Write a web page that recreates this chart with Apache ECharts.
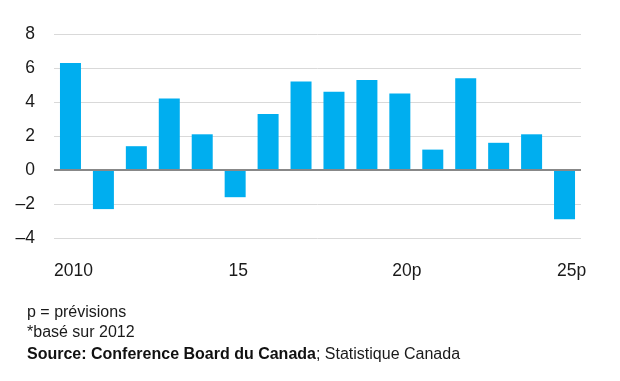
<!DOCTYPE html>
<html><head><meta charset="utf-8">
<script src="https://cdn.jsdelivr.net/npm/echarts@6/dist/echarts.min.js"></script>
<style>html,body{margin:0;padding:0;background:#fff}#c{width:620px;height:381px}</style>
</head><body><div id="c"></div>
<script>
var years = ['2010','2011','2012','2013','2014','2015','2016','2017','2018','2019','2020','2021','2022','2023','2024','2025'];
var tickLabels = ['2010','','','','','15','','','','','20p','','','','','25p'];
var values = [6.3, -2.3, 1.4, 4.2, 2.1, -1.6, 3.3, 5.2, 4.6, 5.3, 4.5, 1.2, 5.4, 1.6, 2.1, -2.9];
var notes = ['p = prévisions', '*basé sur 2012'];
var sourceBold = 'Source: Conference Board du Canada';
var sourceRest = '; Statistique Canada';

var chart = echarts.init(document.getElementById('c'), null, {renderer:'canvas'});
var font = 'Liberation Sans, Arial, sans-serif';
chart.setOption({
  animation:false,
  grid:{left:54, right:39, top:34, bottom:143, containLabel:false},
  xAxis:{type:'category', data:years,
    axisLine:{show:false}, axisTick:{show:false},
    axisLabel:{interval:0, margin:24, color:'#1a1a1a', fontFamily:font, fontSize:17,
      formatter:function(v,i){var t=tickLabels[i]; if(!t) return ''; return /p$/.test(t)?'{q|'+t+'}':'{n|'+t+'}';},
      rich:{n:{fontSize:17.5,color:'#1a1a1a',fontFamily:font,padding:[0,0,0,6]},
            q:{fontSize:17.5,color:'#1a1a1a',fontFamily:font,padding:[0,0,0,14]}}}
  },
  yAxis:{type:'value', min:-4, max:8, interval:2,
    axisLine:{show:false}, axisTick:{show:false},
    splitLine:{lineStyle:{color:'#d9d9d9', width:1}},
    axisLabel:{margin:19, color:'#1a1a1a', fontFamily:font, fontSize:17.5,
      formatter:function(v){return String(v).replace('-','\u2013');}}
  },
  series:[{type:'bar', data:values, barWidth:21, itemStyle:{color:'#00aeef'},
    markLine:{silent:true, symbol:'none', label:{show:false},
      lineStyle:{color:'#888888', width:2, type:'solid'}, data:[{yAxis:0}]}}],
  graphic:[
    {type:'text', left:27, top:305, style:{text:notes[0], font:'16px '+font, fill:'#1a1a1a'}},
    {type:'text', left:27, top:325, style:{text:notes[1], font:'16px '+font, fill:'#1a1a1a'}},
    {type:'text', left:27, top:347, style:{text:'{b|'+sourceBold+'}{r|'+sourceRest+'}', font:'16px '+font, fill:'#111',
      rich:{b:{fontWeight:'bold', fontSize:16, fontFamily:font, fill:'#111'}, r:{fontSize:16, fontFamily:font, fill:'#1a1a1a'}}}}
  ]
});
</script></body></html>
